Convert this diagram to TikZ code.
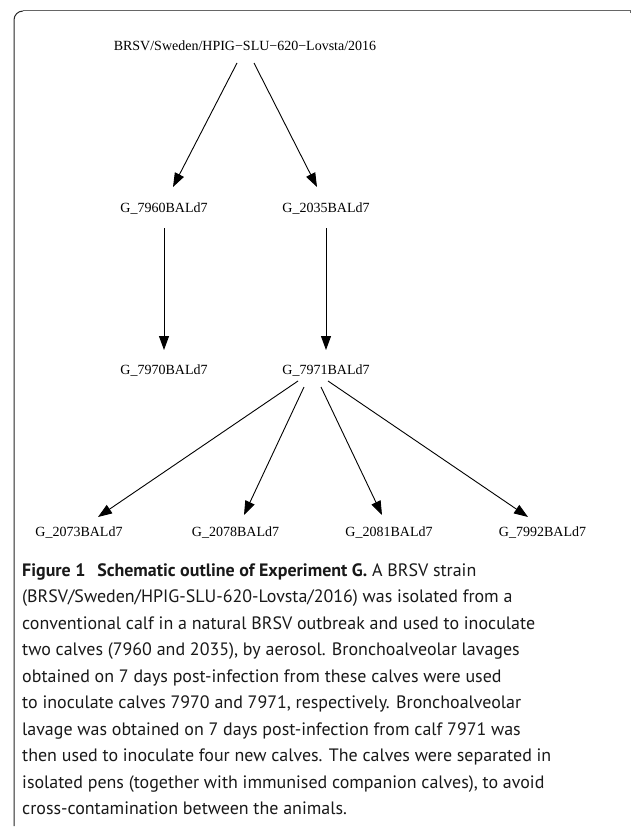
\documentclass[tikz,border=0pt]{standalone}
\usepackage{fontspec}
\setmainfont{Liberation Serif}
\newfontfamily\capfont{PT Sans}
\usetikzlibrary{arrows.meta}
\begin{document}
\begin{tikzpicture}[x=1pt,y=-1pt,
  lbl/.style={font=\fontsize{14}{16}\selectfont, inner sep=0, anchor=base},
  edge/.style={-{Triangle[length=14pt,width=10pt]}, line width=0.9pt},
  caption/.style={font=\capfont\fontsize{17.95}{26.5}\selectfont, align=left, inner sep=0, anchor=north west, text=black!90}
]
\useasboundingbox (0,0) rectangle (633,829);
\fill[white] (0,0) rectangle (633,829);
% frame
\draw[line width=1pt, black!60] (23,11) -- (630,11) -- (630,13);
\draw[line width=1pt, black!85] (14,826) -- (14,20) arc[start angle=180, end angle=270, radius=9];
% nodes
\node[lbl] (top) at (245,51) {BRSV/Sweden/HPIG−SLU−620−Lovsta/2016};
\node[lbl] (a) at (164,212) {G\_7960BALd7};
\node[lbl] (b) at (326,212) {G\_2035BALd7};
\node[lbl] (c) at (164,374) {G\_7970BALd7};
\node[lbl] (d) at (326,374) {G\_7971BALd7};
\node[lbl] (e) at (79,536) {G\_2073BALd7};
\node[lbl] (f) at (235.5,536) {G\_2078BALd7};
\node[lbl] (g) at (389,536) {G\_2081BALd7};
\node[lbl] (h) at (542.5,536) {G\_7992BALd7};
% edges
\draw[edge] ([shift={(-8,12)}]top.base) -- ([shift={(9,-25)}]a.base);
\draw[edge] ([shift={(9,12)}]top.base) -- ([shift={(-9,-25)}]b.base);
\draw[edge] ([shift={(0,16)}]a.base) -- ([shift={(0,-24)}]c.base);
\draw[edge] ([shift={(0,16)}]b.base) -- ([shift={(0,-24)}]d.base);
\draw[edge] ([shift={(-28,7)}]d.base) -- ([shift={(19,-19)}]e.base);
\draw[edge] ([shift={(-22,13)}]d.base) -- ([shift={(8.5,-21)}]f.base);
\draw[edge] ([shift={(-5,13)}]d.base) -- ([shift={(-7,-21)}]g.base);
\draw[edge] ([shift={(2,7)}]d.base) -- ([shift={(-14.5,-19)}]h.base);
% caption
\node[caption] (cap) at (22,563) {\textbf{Figure 1\hspace{0.4em} Schematic outline of Experiment G.} A BRSV strain\\
(BRSV/Sweden/HPIG-SLU-620-Lovsta/2016) was isolated from a\\
conventional calf in a natural BRSV outbreak and used to inoculate\\
two calves (7960 and 2035), by aerosol. Bronchoalveolar lavages\\
obtained on 7 days post-infection from these calves were used\\
to inoculate calves 7970 and 7971, respectively. Bronchoalveolar\\
lavage was obtained on 7 days post-infection from calf 7971 was\\
then used to inoculate four new calves. The calves were separated in\\
isolated pens (together with immunised companion calves), to avoid\\
cross-contamination between the animals.};
\end{tikzpicture}
\end{document}
